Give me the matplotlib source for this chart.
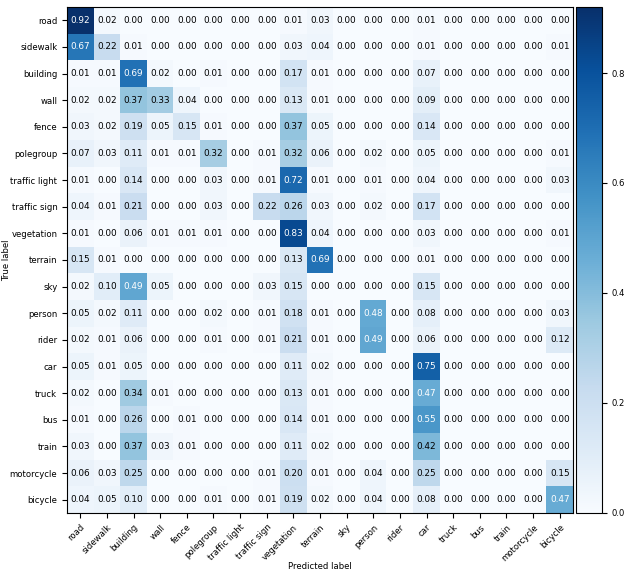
import numpy as np
import matplotlib
matplotlib.use('Agg')
import matplotlib.pyplot as plt

classes = ['road', 'sidewalk', 'building', 'wall', 'fence', 'polegroup',
           'traffic light', 'traffic sign', 'vegetation', 'terrain', 'sky',
           'person', 'rider', 'car', 'truck', 'bus', 'train', 'motorcycle',
           'bicycle']

# rows = true label, columns = predicted label
cm = np.array([
    [0.92, 0.02, 0.00, 0.00, 0.00, 0.00, 0.00, 0.00, 0.01, 0.03, 0.00, 0.00, 0.00, 0.01, 0.00, 0.00, 0.00, 0.00, 0.00],
    [0.67, 0.22, 0.01, 0.00, 0.00, 0.00, 0.00, 0.00, 0.03, 0.04, 0.00, 0.00, 0.00, 0.01, 0.00, 0.00, 0.00, 0.00, 0.01],
    [0.01, 0.01, 0.69, 0.02, 0.00, 0.01, 0.00, 0.00, 0.17, 0.01, 0.00, 0.00, 0.00, 0.07, 0.00, 0.00, 0.00, 0.00, 0.00],
    [0.02, 0.02, 0.37, 0.33, 0.04, 0.00, 0.00, 0.00, 0.13, 0.01, 0.00, 0.00, 0.00, 0.09, 0.00, 0.00, 0.00, 0.00, 0.00],
    [0.03, 0.02, 0.19, 0.05, 0.15, 0.01, 0.00, 0.00, 0.37, 0.05, 0.00, 0.00, 0.00, 0.14, 0.00, 0.00, 0.00, 0.00, 0.00],
    [0.07, 0.03, 0.11, 0.01, 0.01, 0.32, 0.00, 0.01, 0.32, 0.06, 0.00, 0.02, 0.00, 0.05, 0.00, 0.00, 0.00, 0.00, 0.01],
    [0.01, 0.00, 0.14, 0.00, 0.00, 0.03, 0.00, 0.01, 0.72, 0.01, 0.00, 0.01, 0.00, 0.04, 0.00, 0.00, 0.00, 0.00, 0.03],
    [0.04, 0.01, 0.21, 0.00, 0.00, 0.03, 0.00, 0.22, 0.26, 0.03, 0.00, 0.02, 0.00, 0.17, 0.00, 0.00, 0.00, 0.00, 0.00],
    [0.01, 0.00, 0.06, 0.01, 0.01, 0.01, 0.00, 0.00, 0.83, 0.04, 0.00, 0.00, 0.00, 0.03, 0.00, 0.00, 0.00, 0.00, 0.01],
    [0.15, 0.01, 0.00, 0.00, 0.00, 0.00, 0.00, 0.00, 0.13, 0.69, 0.00, 0.00, 0.00, 0.01, 0.00, 0.00, 0.00, 0.00, 0.00],
    [0.02, 0.10, 0.49, 0.05, 0.00, 0.00, 0.00, 0.03, 0.15, 0.00, 0.00, 0.00, 0.00, 0.15, 0.00, 0.00, 0.00, 0.00, 0.00],
    [0.05, 0.02, 0.11, 0.00, 0.00, 0.02, 0.00, 0.01, 0.18, 0.01, 0.00, 0.48, 0.00, 0.08, 0.00, 0.00, 0.00, 0.00, 0.03],
    [0.02, 0.01, 0.06, 0.00, 0.00, 0.01, 0.00, 0.01, 0.21, 0.01, 0.00, 0.49, 0.00, 0.06, 0.00, 0.00, 0.00, 0.00, 0.12],
    [0.05, 0.01, 0.05, 0.00, 0.00, 0.00, 0.00, 0.00, 0.11, 0.02, 0.00, 0.00, 0.00, 0.75, 0.00, 0.00, 0.00, 0.00, 0.00],
    [0.02, 0.00, 0.34, 0.01, 0.00, 0.00, 0.00, 0.00, 0.13, 0.01, 0.00, 0.00, 0.00, 0.47, 0.00, 0.00, 0.00, 0.00, 0.00],
    [0.01, 0.00, 0.26, 0.00, 0.01, 0.00, 0.00, 0.00, 0.14, 0.01, 0.00, 0.00, 0.00, 0.55, 0.00, 0.00, 0.00, 0.00, 0.00],
    [0.03, 0.00, 0.37, 0.03, 0.01, 0.00, 0.00, 0.00, 0.11, 0.02, 0.00, 0.00, 0.00, 0.42, 0.00, 0.00, 0.00, 0.00, 0.00],
    [0.06, 0.03, 0.25, 0.00, 0.00, 0.00, 0.00, 0.01, 0.20, 0.01, 0.00, 0.04, 0.00, 0.25, 0.00, 0.00, 0.00, 0.00, 0.15],
    [0.04, 0.05, 0.10, 0.00, 0.00, 0.01, 0.00, 0.01, 0.19, 0.02, 0.00, 0.04, 0.00, 0.08, 0.00, 0.00, 0.00, 0.00, 0.47],
])

fs = 6.1
fig = plt.figure(figsize=(6.27, 5.74), dpi=100)
ax = fig.add_axes([0.1069, 0.1063, 0.807, 0.8815])
cax = fig.add_axes([0.9187, 0.1063, 0.0415, 0.8815])

im = ax.imshow(cm, interpolation='nearest', cmap=plt.cm.Blues, aspect='auto')
cb = fig.colorbar(im, cax=cax)
cb.ax.tick_params(labelsize=fs)
cb.outline.set_linewidth(0.8)

ticks = np.arange(len(classes))
ax.set_xticks(ticks)
ax.set_xticklabels(classes, rotation=45, ha='right', rotation_mode='anchor', fontsize=fs)
ax.set_yticks(ticks)
ax.set_yticklabels(classes, fontsize=fs)

# annotate each cell
thresh = cm.max() / 2.
for i in range(cm.shape[0]):
    for j in range(cm.shape[1]):
        ax.text(j, i, format(cm[i, j], '.2f'), ha='center', va='center',
                fontsize=6.4, color='white' if cm[i, j] > thresh else 'black')

ax.set_ylabel('True label', fontsize=fs)
ax.set_xlabel('Predicted label', fontsize=fs)
ax.yaxis.set_label_coords(-0.111, 0.5)
ax.xaxis.set_label_coords(0.5, -0.097)

fig.savefig('out.png', dpi=100)
